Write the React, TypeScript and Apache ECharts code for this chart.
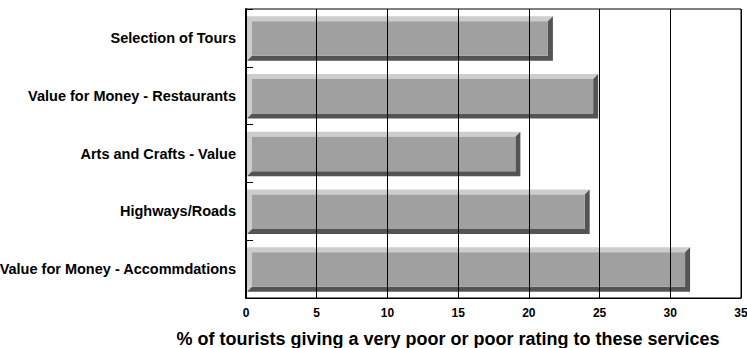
import React, { useEffect, useRef } from "react";
import * as echarts from "echarts";

const categories = [
  "Selection of Tours",
  "Value for Money - Restaurants",
  "Arts and Crafts - Value",
  "Highways/Roads",
  "Value for Money - Accommdations",
];
const values = [21.7, 24.9, 19.4, 24.3, 31.4];
const xTicks = { min: 0, max: 35, interval: 5 };
const axisTitle = "% of tourists giving a very poor or poor rating to these services";

const FONT = "'Liberation Sans', Arial, Helvetica, sans-serif";

export default function App() {
  const ref = useRef<HTMLDivElement>(null);
  useEffect(() => {
    if (!ref.current) return;
    const chart = echarts.init(ref.current, undefined, { renderer: "svg" });
    const data = values.map((v, i) => [v, categories[i]]);
    chart.setOption({
      animation: false,
      backgroundColor: "#ffffff",
      grid: {
        left: 246,
        right: 6,
        top: 9,
        bottom: 50,
        containLabel: false,
        outerBoundsMode: "none",
        show: true,
        borderColor: "#000000",
        borderWidth: 1,
        backgroundColor: "transparent",
      },
      graphic: [
        {
          type: "text",
          x: 448,
          y: 339,
          z: 10,
          style: {
            text: axisTitle,
            fill: "#000000",
            font: `bold 18px ${FONT}`,
            textAlign: "center",
            textVerticalAlign: "middle",
          },
        },
      ],
      xAxis: {
        type: "value",
        min: xTicks.min,
        max: xTicks.max,
        interval: xTicks.interval,
        z: 5,
        axisLine: { show: true, lineStyle: { color: "#000000", width: 1 } },
        axisTick: { show: false },
        splitLine: { show: true, lineStyle: { color: "#000000", width: 1 } },
        axisLabel: {
          color: "#000000",
          fontWeight: "bold",
          fontSize: 12,
          fontFamily: FONT,
          margin: 9,
        },
      },
      yAxis: {
        type: "category",
        data: categories,
        inverse: true,
        z: 5,
        axisLine: { show: true, lineStyle: { color: "#000000", width: 2 } },
        axisTick: { show: true, inside: true, length: 7, lineStyle: { color: "#000000" } },
        splitLine: { show: false },
        axisLabel: {
          color: "#000000",
          fontWeight: "bold",
          fontSize: 14.5,
          fontFamily: FONT,
          margin: 10,
        },
      },
      series: [
        {
          type: "custom",
          encode: { x: 0, y: 1 },
          data,
          z: 1,
          renderItem: (params: any, api: any) => {
            const v = api.value(0);
            const idx = api.value(1);
            const start = api.coord([0, idx]);
            const end = api.coord([v, idx]);
            const bandH = api.size([0, 1])[1];
            const h = bandH * 0.77;
            const d = 5;
            const x0 = start[0] + 1;
            const x1 = end[0];
            const y0 = start[1] - h / 2 + 0.5;
            const y1 = start[1] + h / 2 + 0.5;
            return {
              type: "group",
              children: [
                {
                  type: "polygon",
                  shape: {
                    points: [
                      [x0, y0],
                      [x1, y0],
                      [x1 - d, y0 + d],
                      [x0 + d, y0 + d],
                      [x0 + d, y1 - d],
                      [x0, y1],
                    ],
                  },
                  style: { fill: "#cdcdcd" },
                },
                {
                  type: "polygon",
                  shape: {
                    points: [
                      [x1, y0],
                      [x1, y1],
                      [x0, y1],
                      [x0 + d, y1 - d],
                      [x1 - d, y1 - d],
                      [x1 - d, y0 + d],
                    ],
                  },
                  style: { fill: "#545454" },
                },
                {
                  type: "rect",
                  shape: { x: x0 + d, y: y0 + d, width: x1 - x0 - 2 * d, height: h - 2 * d },
                  style: { fill: "#a0a0a0" },
                },
              ],
            };
          },
        },
      ],
    });
    return () => chart.dispose();
  }, []);
  return (
    <div
      ref={ref}
      style={{ position: "fixed", left: 0, top: 0, width: 747, height: 348 }}
    />
  );
}
